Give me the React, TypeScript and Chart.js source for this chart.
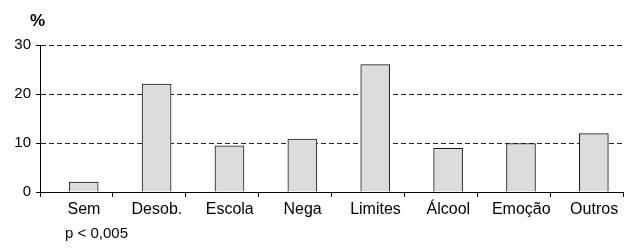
import React, { useEffect, useRef } from "react";
import { Chart, registerables } from "chart.js";

Chart.register(...registerables);

const categories = ["Sem", "Desob.", "Escola", "Nega", "Limites", "Álcool", "Emoção", "Outros"];
const values = [2, 22, 9.4, 10.8, 26, 8.9, 9.9, 11.9];
const yTicks = [0, 10, 20, 30];
const yTitle = "%";
const note = "p < 0,005";

const FONT = '"Liberation Sans", Arial, sans-serif';

export default function App() {
  const ref = useRef<HTMLCanvasElement | null>(null);

  useEffect(() => {
    const canvas = ref.current;
    if (!canvas) return;
    const shift = 0.6;
    const textPlugin = {
      id: "texts",
      afterDraw(chart: any) {
        const ctx = chart.ctx;
        ctx.save();
        ctx.fillStyle = "#000";
        ctx.textBaseline = "alphabetic";
        ctx.textAlign = "left";
        ctx.font = `bold 17px ${FONT}`;
        ctx.fillText(yTitle, 30, 26);
        ctx.font = `15px ${FONT}`;
        ctx.fillText(note, 65, 238);
        ctx.restore();
      },
    };
    const chart = new Chart(canvas, {
      type: "bar",
      data: {
        datasets: [
          {
            data: values.map((v, i) => ({ x: i, y: v })),
            backgroundColor: "#dcdcdc",
            borderColor: "#1a1a1a",
            borderWidth: 1,
            barThickness: 29,
          } as any,
        ],
      },
      plugins: [textPlugin],
      options: {
        animation: false,
        responsive: false,
        devicePixelRatio: 1,
        layout: { padding: { top: 45, right: 1, bottom: 0, left: 0 } },
        plugins: {
          legend: { display: false },
          tooltip: { enabled: false },
          title: { display: false },
        },
        scales: {
          x: {
            type: "linear",
            offset: false,
            min: -shift,
            max: categories.length - shift,
            afterBuildTicks: (scale: any) => {
              const t = categories.map((_, i) => ({ value: i - shift }));
              t.push({ value: categories.length - shift });
              scale.ticks = t;
            },
            afterFit: (scale: any) => {
              scale.height = 57;
            },
            grid: {
              display: true,
              offset: false,
              drawOnChartArea: false,
              tickLength: 5,
              tickColor: "#000",
              tickWidth: 1,
            },
            border: { display: true, color: "#000", width: 1 },
            ticks: {
              autoSkip: false,
              maxRotation: 0,
              padding: 3,
              labelOffset: 44,
              color: "#000",
              font: { family: FONT, size: 16 },
              callback: (_v: any, index: number) => categories[index] ?? "",
            },
          },
          y: {
            min: 0,
            max: 30,
            afterBuildTicks: (scale: any) => {
              scale.ticks = yTicks.map((v) => ({ value: v }));
            },
            afterFit: (scale: any) => {
              scale.width = 40;
            },
            grid: {
              color: (c: any) => (c.tick && c.tick.value === 0 ? "rgba(0,0,0,0)" : "#222"),
              lineWidth: 1,
              tickLength: 4,
              tickColor: "#000",
              tickBorderDash: [],
              tickWidth: 1,
            },
            border: { display: true, color: "#000", width: 1, dash: [5, 3] },
            ticks: {
              padding: 5,
              color: "#000",
              font: { family: FONT, size: 15 },
            },
          },
        },
      } as any,
    });
    return () => chart.destroy();
  }, []);

  return (
    <div style={{ position: "absolute", left: 0, top: 0, width: 626, height: 249, background: "#fff" }}>
      <canvas ref={ref} width={626} height={249} style={{ display: "block" }} />
    </div>
  );
}
